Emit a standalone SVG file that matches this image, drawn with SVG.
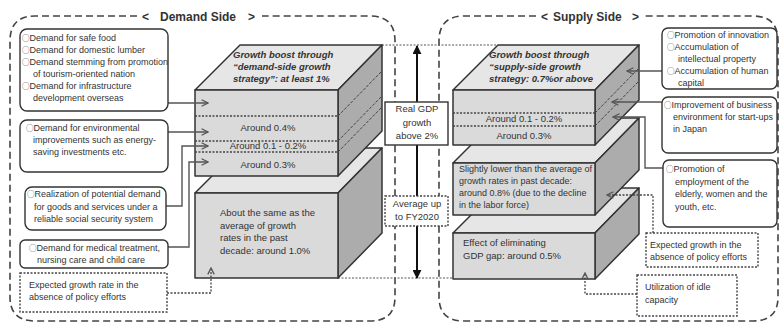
<svg xmlns="http://www.w3.org/2000/svg" width="781" height="324" viewBox="0 0 781 324">
  <style>
    .region{fill:none;stroke:#444;stroke-width:1.6;stroke-dasharray:7 4}
    .box{fill:#fff;stroke:#333;stroke-width:1.4}
    .dbox{fill:#fff;stroke:#444;stroke-width:1.4;stroke-dasharray:2 1.5}
    .front{fill:#dadada;stroke:#333;stroke-width:1.5;stroke-linejoin:round}
    .top{fill:#e6e6e6;stroke:#333;stroke-width:1.5;stroke-linejoin:round}
    .side{fill:#acacac;stroke:#333;stroke-width:1.5;stroke-linejoin:round}
    .band{stroke:#444;stroke-width:1.3;stroke-dasharray:2 1.5;fill:none}
    .sband{stroke:#444;stroke-width:1;stroke-dasharray:3 1.5;fill:none}
    .conn{fill:none;stroke:#555;stroke-width:1.4}
    .dconn{fill:none;stroke:#444;stroke-width:1.3;stroke-dasharray:2 1.5}
    .guide{fill:none;stroke:#555;stroke-width:1;stroke-dasharray:2 1.5}
    text{font-family:"Liberation Sans",Arial,"DejaVu Sans",sans-serif;font-size:9px;fill:#333}
    .c{font-family:"Noto Sans CJK JP","DejaVu Sans",sans-serif;font-size:7.5px}
    .title{font-size:12px;font-weight:bold;fill:#333}
    .blk{font-size:9.5px}
    .ital{font-size:9.5px;font-style:italic;font-weight:bold}
    .mid{text-anchor:middle}
  </style>
  <defs>
    <marker id="open" viewBox="0 0 10 10" refX="9" refY="5" markerWidth="8" markerHeight="8" markerUnits="userSpaceOnUse" orient="auto">
      <path d="M1,1 L9,5 L1,9" fill="none" stroke="#555" stroke-width="1.6"/>
    </marker>
    <marker id="solid" viewBox="0 0 10 10" refX="9" refY="5" markerWidth="9" markerHeight="9" markerUnits="userSpaceOnUse" orient="auto">
      <path d="M0,0 L10,5 L0,10 Z" fill="#111"/>
    </marker>
  </defs>

  <!-- side regions -->
  <g id="demand-region">
    <path class="region" d="M137,16 H35 Q10,16 10,41 V297 Q10,321 35,321 H370 Q395,321 395,297 V41 Q395,16 370,16 H262"/>
    <text class="title" y="21"><tspan x="142">&lt; </tspan><tspan x="160">Demand Side </tspan><tspan x="248">&gt;</tspan></text>
  </g>
  <g id="supply-region">
    <path class="region" d="M536,16 H464 Q439,16 439,41 V297 Q439,321 464,321 H753 Q778,321 778,297 V41 Q778,16 753,16 H645"/>
    <text class="title" y="21"><tspan x="541">&lt; </tspan><tspan x="553">Supply Side </tspan><tspan x="632">&gt;</tspan></text>
  </g>

  <!-- level guides -->
  <g id="guides">
    <line class="guide" x1="382" y1="45" x2="497" y2="45"/>
    <line class="guide" x1="338" y1="278" x2="453" y2="278"/>
  </g>

  <!-- demand side: base block -->
  <g id="demand-base">
    <polygon class="top" points="195,193 240,148 382,148 338,193"/>
    <polygon class="side" points="338,193 382,148 382,233 338,278"/>
    <rect class="front" x="195" y="193" width="143" height="85"/>
    <text class="blk" x="220" y="216">About the same as the</text>
    <text class="blk" x="220" y="229">average of growth</text>
    <text class="blk" x="220" y="241">rates in the past</text>
    <text class="blk" x="220" y="254">decade: around 1.0%</text>
  </g>

  <!-- demand side: growth strategy block -->
  <g id="demand-boost">
    <polygon class="top" points="195,90 240,45 382,45 338,90"/>
    <polygon class="side" points="338,90 382,45 382,131 338,176"/>
    <rect class="front" x="195" y="90" width="143" height="86"/>
    <line class="band" x1="195" y1="116" x2="338" y2="116"/>
    <line class="band" x1="195" y1="141" x2="338" y2="141"/>
    <line class="band" x1="195" y1="152" x2="338" y2="152"/>
    <line class="sband" x1="338" y1="116" x2="382" y2="71"/>
    <line class="sband" x1="338" y1="141" x2="382" y2="96"/>
    <line class="sband" x1="338" y1="152" x2="382" y2="107"/>
    <text class="ital" x="233" y="58">Growth boost through</text>
    <text class="ital" x="233" y="70">“demand-side growth</text>
    <text class="ital" x="233" y="82">strategy”: at least 1%</text>
    <text class="blk mid" x="268" y="131">Around 0.4%</text>
    <text class="blk mid" x="268" y="149">Around 0.1 - 0.2%</text>
    <text class="blk mid" x="268" y="168">Around 0.3%</text>
  </g>

  <!-- supply side: bottom block -->
  <g id="supply-gap">
    <polygon class="top" points="453,233 498,188 639,188 595,233"/>
    <polygon class="side" points="595,233 639,188 639,234 595,279"/>
    <rect class="front" x="453" y="233" width="142" height="46"/>
    <text class="blk" x="463" y="246">Effect of eliminating</text>
    <text class="blk" x="463" y="259">GDP gap: around 0.5%</text>
  </g>

  <!-- supply side: potential growth block -->
  <g id="supply-base">
    <polygon class="top" points="453,163 498,118 639,118 595,163"/>
    <polygon class="side" points="595,163 639,118 639,170 595,215"/>
    <rect class="front" x="453" y="163" width="142" height="52"/>
    <text x="459" y="172">Slightly lower than the average of</text>
    <text x="459" y="184">growth rates in past decade:</text>
    <text x="459" y="196">around 0.8% (due to the decline</text>
    <text x="459" y="208">in the labor force)</text>
  </g>

  <!-- supply side: growth strategy block -->
  <g id="supply-boost">
    <polygon class="top" points="453,90 498,45 639,45 595,90"/>
    <polygon class="side" points="595,90 639,45 639,100 595,145"/>
    <rect class="front" x="453" y="90" width="142" height="55"/>
    <line class="band" x1="453" y1="113" x2="595" y2="113"/>
    <line class="band" x1="453" y1="126" x2="595" y2="126"/>
    <line class="sband" x1="595" y1="113" x2="639" y2="68"/>
    <line class="sband" x1="595" y1="126" x2="639" y2="81"/>
    <text class="ital" x="489" y="58">Growth boost through</text>
    <text class="ital" x="489" y="70">“supply-side growth</text>
    <text class="ital" x="489" y="82">strategy: 0.7%or above</text>
    <text class="blk mid" x="524" y="122">Around 0.1 - 0.2%</text>
    <text class="blk mid" x="524" y="139">Around 0.3%</text>
  </g>

  <!-- connectors -->
  <g id="connectors">
    <line x1="417" y1="60" x2="417" y2="46" stroke="#111" stroke-width="2" marker-end="url(#solid)"/>
    <line x1="417" y1="60" x2="417" y2="278" stroke="#111" stroke-width="2" marker-end="url(#solid)"/>
    <path class="conn" d="M168,103 H208" marker-end="url(#open)"/>
    <path class="conn" d="M168,132 H208" marker-end="url(#open)"/>
    <path class="conn" d="M166,206 H182 V146 H208" marker-end="url(#open)"/>
    <path class="conn" d="M168,247 H189 V162 H208" marker-end="url(#open)"/>
    <path class="dconn" d="M167,293 H211 V268" marker-end="url(#open)"/>
    <path class="conn" d="M662,71 H627" marker-end="url(#open)"/>
    <path class="conn" d="M662,102 H612" marker-end="url(#open)"/>
    <path class="conn" d="M663,168 H645 V117 H613" marker-end="url(#open)"/>
    <path class="dconn" d="M653,233 V195 H607" marker-end="url(#open)"/>
    <path class="dconn" d="M637,294 H585 V273" marker-end="url(#open)"/>
  </g>

  <!-- middle labels -->
  <g id="gdp-label">
    <rect class="box" x="385" y="102" width="63" height="43"/>
    <text class="blk mid" x="417" y="112">Real GDP</text>
    <text class="blk mid" x="417" y="126">growth</text>
    <text class="blk mid" x="417" y="139">above 2%</text>
  </g>
  <g id="period-label">
    <rect class="dbox" x="385" y="196" width="63" height="30"/>
    <text class="blk mid" x="417" y="207">Average up</text>
    <text class="blk mid" x="417" y="220">to FY2020</text>
  </g>

  <!-- demand side factors -->
  <g id="demand-food">
    <rect class="box" x="20" y="29" width="148" height="82" rx="7"/>
    <text x="22" y="41"><tspan class="c">○</tspan>Demand for safe food</text>
    <text x="22" y="53"><tspan class="c">○</tspan>Demand for domestic lumber</text>
    <text x="22" y="65"><tspan class="c">○</tspan>Demand stemming from promotion</text>
    <text x="33" y="77">of tourism-oriented nation</text>
    <text x="22" y="89"><tspan class="c">○</tspan>Demand for infrastructure</text>
    <text x="33" y="101">development overseas</text>
  </g>
  <g id="demand-env">
    <rect class="box" x="20" y="120" width="148" height="52" rx="7"/>
    <text x="26" y="131"><tspan class="c">○</tspan>Demand for environmental</text>
    <text x="33" y="143">improvements such as energy-</text>
    <text x="33" y="155">saving investments etc.</text>
  </g>
  <g id="demand-security">
    <rect class="box" x="25" y="187" width="141" height="43" rx="7"/>
    <text x="27" y="197"><tspan class="c">○</tspan>Realization of potential demand</text>
    <text x="34" y="210">for goods and services under a</text>
    <text x="34" y="222">reliable social security system</text>
  </g>
  <g id="demand-care">
    <rect class="box" x="20" y="240" width="148" height="28" rx="5"/>
    <text x="29" y="251"><tspan class="c">○</tspan>Demand for medical treatment,</text>
    <text x="37" y="263">nursing care and child care</text>
  </g>
  <g id="demand-baseline">
    <rect class="dbox" x="20" y="273" width="147" height="39"/>
    <text x="29" y="288">Expected growth rate in the</text>
    <text x="29" y="300">absence of policy efforts</text>
  </g>

  <!-- supply side factors -->
  <g id="supply-innovation">
    <rect class="box" x="662" y="28" width="115" height="61" rx="6"/>
    <text x="667" y="38"><tspan class="c">○</tspan>Promotion of innovation</text>
    <text x="667" y="50"><tspan class="c">○</tspan>Accumulation of</text>
    <text x="678" y="62">intellectual property</text>
    <text x="667" y="74"><tspan class="c">○</tspan>Accumulation of human</text>
    <text x="678" y="86">capital</text>
  </g>
  <g id="supply-startups">
    <rect class="box" x="662" y="97" width="115" height="56" rx="6"/>
    <text x="664" y="108"><tspan class="c">○</tspan>Improvement of business</text>
    <text x="673" y="120">environment for start-ups</text>
    <text x="673" y="132">in Japan</text>
  </g>
  <g id="supply-employment">
    <rect class="box" x="663" y="160" width="114" height="67" rx="6"/>
    <text x="666" y="172"><tspan class="c">○</tspan>Promotion of</text>
    <text x="675" y="185">employment of the</text>
    <text x="675" y="197">elderly, women and the</text>
    <text x="675" y="210">youth, etc.</text>
  </g>
  <g id="supply-baseline">
    <rect class="dbox" x="646" y="233" width="112" height="34"/>
    <text x="650" y="248">Expected growth in the</text>
    <text x="650" y="260">absence of policy efforts</text>
  </g>
  <g id="supply-idle">
    <rect class="dbox" x="637" y="275" width="100" height="41"/>
    <text x="645" y="290">Utilization of idle</text>
    <text x="645" y="303">capacity</text>
  </g>
</svg>
